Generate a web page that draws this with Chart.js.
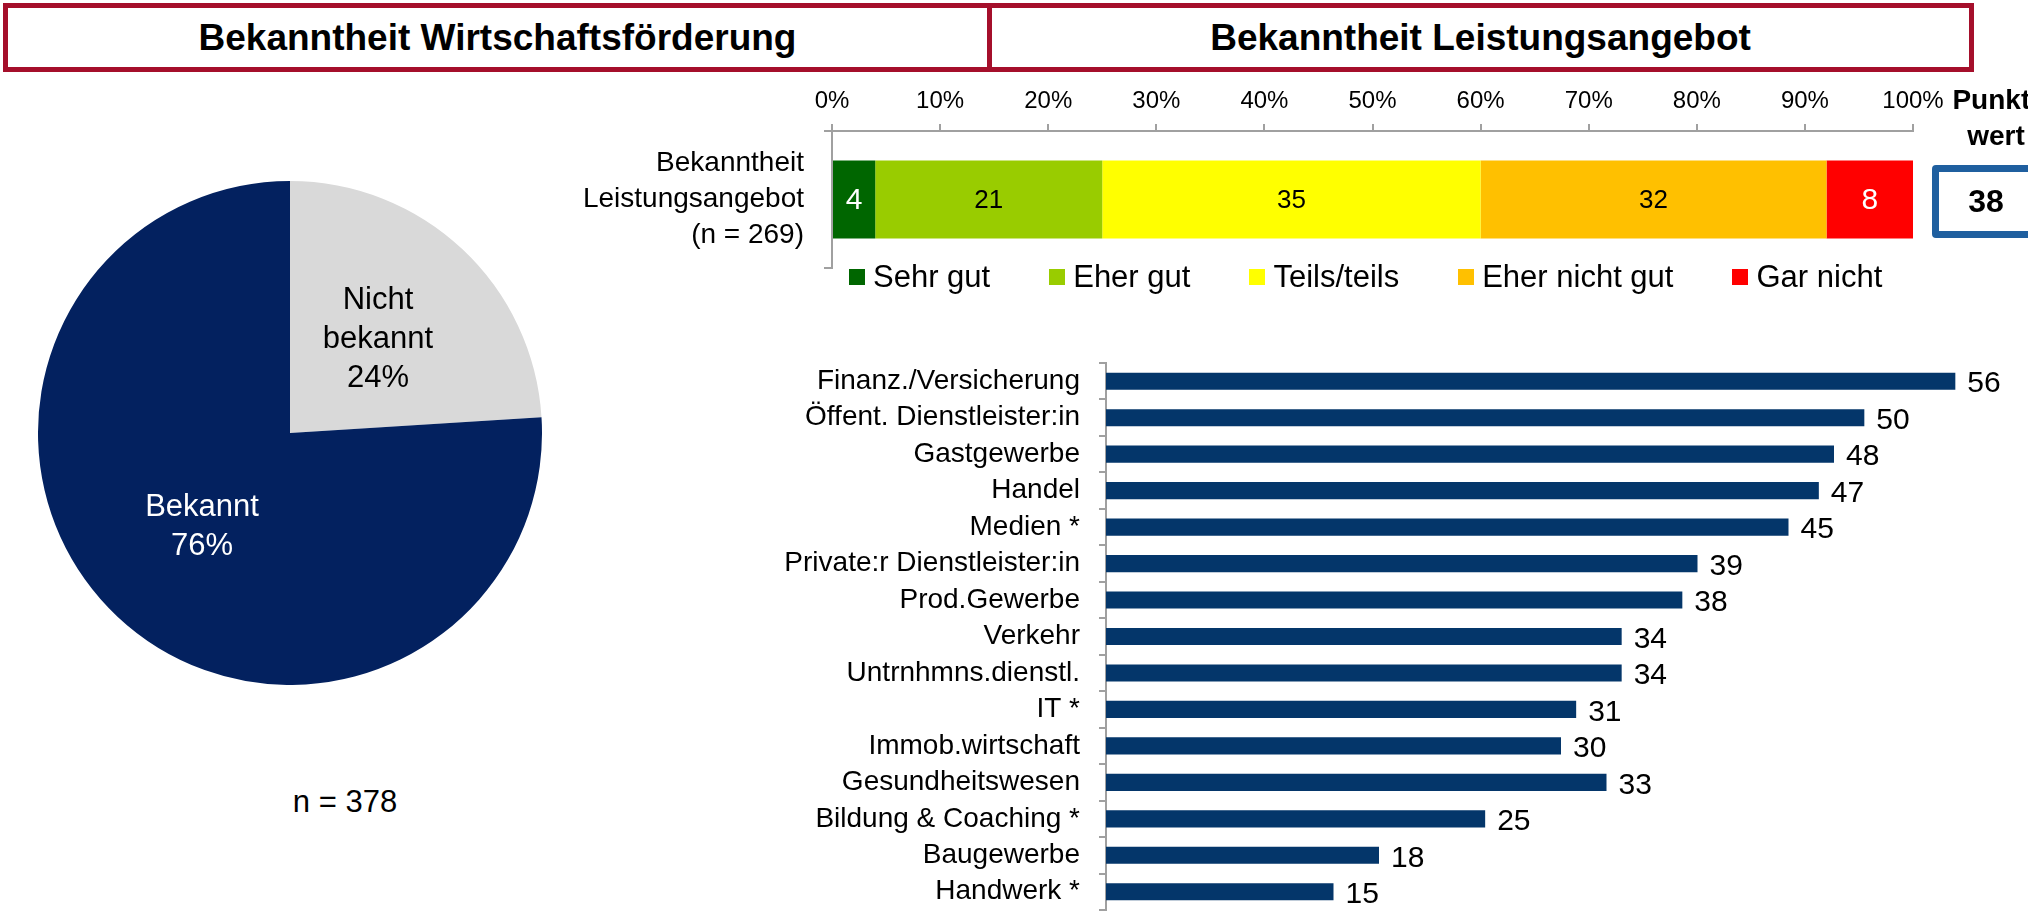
<!DOCTYPE html>
<html><head><meta charset="utf-8">
<script src="https://cdn.jsdelivr.net/npm/chart.js@4/dist/chart.umd.min.js"></script>
<style>
html,body{margin:0;padding:0;background:#fff;width:2028px;height:916px;overflow:hidden;position:relative;font-family:"Liberation Sans",Arial,sans-serif;color:#000}
.tbox{position:absolute;top:3px;height:69px;box-sizing:border-box;border:5px solid #A50F2B;display:flex;align-items:center;justify-content:center;font-weight:bold;font-size:37px}
canvas{position:absolute}
#legend{position:absolute;left:849px;top:259px;height:36px;display:flex;align-items:center;column-gap:59px;font-size:31px;white-space:nowrap}
#legend .it{display:flex;align-items:center}
#legend .sw{width:16px;height:16px;margin-right:8px}
#pw{position:absolute;left:1936px;top:82px;width:120px;text-align:center;font-weight:bold;font-size:28px;line-height:36px}
#pbox{position:absolute;left:1932px;top:165px;width:108px;height:73px;box-sizing:border-box;border:7px solid #1F5F9F;border-radius:4px;display:flex;align-items:center;justify-content:center;font-weight:bold;font-size:32px}
#nlab{position:absolute;left:245px;width:200px;top:784px;text-align:center;font-size:31px}
</style></head><body>
<div class="tbox" style="left:3px;width:989px">Bekanntheit Wirtschaftsförderung</div>
<div class="tbox" style="left:987px;width:987px">Bekanntheit Leistungsangebot</div>
<canvas id="pie" width="504" height="504" style="left:38px;top:181px"></canvas>
<div id="nlab"></div>
<canvas id="stack" width="1468" height="192" style="left:560px;top:80px"></canvas>
<div id="legend"></div>
<div id="pw"></div>
<div id="pbox"></div>
<canvas id="bars" width="1248" height="576" style="left:780px;top:340px"></canvas>
<script>
// ---- data ----
const pieLabels = ['Nicht bekannt', 'Bekannt'];
const pieValues = [24, 76];
const pieColors = ['#D9D9D9', '#03215F'];
const pieTextColors = ['#000000', '#FFFFFF'];
const pieSample = 'n = 378';

const stackCategory = [['Bekanntheit', 'Leistungsangebot', '(n = 269)']];
const stackSeries = ['Sehr gut', 'Eher gut', 'Teils/teils', 'Eher nicht gut', 'Gar nicht'];
const stackValues = [4, 21, 35, 32, 8];
const stackColors = ['#006600', '#99CC00', '#FFFF00', '#FFC000', '#FF0000'];
const stackTextColors = ['#FFFFFF', '#000000', '#000000', '#000000', '#FFFFFF'];
const pctTickStep = 10;
const punktwertTitle = ['Punkt-', 'wert'];
const punktwert = 38;

const branchLabels = ['Finanz./Versicherung', 'Öffent. Dienstleister:in', 'Gastgewerbe', 'Handel', 'Medien *',
  'Private:r Dienstleister:in', 'Prod.Gewerbe', 'Verkehr', 'Untrnhmns.dienstl.', 'IT *', 'Immob.wirtschaft',
  'Gesundheitswesen', 'Bildung & Coaching *', 'Baugewerbe', 'Handwerk *'];
const branchValues = [56, 50, 48, 47, 45, 39, 38, 34, 34, 31, 30, 33, 25, 18, 15];
const branchColor = '#04366A';

const FONT = '"Liberation Sans", Arial, sans-serif';
const AXIS = '#A0A0A0';

// ---- pie ----
document.getElementById('nlab').textContent = pieSample;
const pieLabelPlugin = {
  id: 'pieLabels',
  afterDatasetsDraw(chart) {
    const ctx = chart.ctx;
    const meta = chart.getDatasetMeta(0);
    meta.data.forEach((arc, i) => {
      const mid = (arc.startAngle + arc.endAngle) / 2;
      const r = arc.outerRadius * 0.51;
      const x = arc.x + Math.cos(mid) * r;
      const y = arc.y + Math.sin(mid) * r;
      const lines = pieLabels[i].split(' ');
      lines.push(pieValues[i] + '%');
      ctx.save();
      ctx.font = '31px ' + FONT;
      ctx.fillStyle = pieTextColors[i];
      ctx.textAlign = 'center';
      ctx.textBaseline = 'middle';
      const lh = 39;
      lines.forEach((t, k) => ctx.fillText(t, x, y + (k - (lines.length - 1) / 2) * lh));
      ctx.restore();
    });
  }
};
new Chart(document.getElementById('pie'), {
  type: 'pie',
  data: { labels: pieLabels, datasets: [{ data: pieValues, backgroundColor: pieColors, borderWidth: 0 }] },
  options: {
    responsive: false, animation: false,
    layout: { padding: 0 },
    plugins: { legend: { display: false }, tooltip: { enabled: false } }
  },
  plugins: [pieLabelPlugin]
});

// ---- stacked bar ----
const stackLabelPlugin = {
  id: 'stackLabels',
  afterDatasetsDraw(chart) {
    const ctx = chart.ctx;
    chart.data.datasets.forEach((ds, i) => {
      const el = chart.getDatasetMeta(i).data[0];
      const white = stackTextColors[i] === '#FFFFFF';
      ctx.save();
      ctx.font = (white ? '30px ' : '26px ') + FONT;
      ctx.fillStyle = stackTextColors[i];
      ctx.textAlign = 'center';
      ctx.textBaseline = 'middle';
      ctx.fillText(String(ds.data[0]), (el.x + el.base) / 2, el.y + 1);
      ctx.restore();
    });
  }
};
const stackChart = new Chart(document.getElementById('stack'), {
  type: 'bar',
  data: {
    labels: stackCategory,
    datasets: stackSeries.map((s, i) => ({
      label: s, data: [stackValues[i]], backgroundColor: stackColors[i],
      borderWidth: 0, barPercentage: 0.57, categoryPercentage: 1
    }))
  },
  options: {
    indexAxis: 'y', responsive: false, animation: false,
    layout: { padding: { top: 0, right: 115, bottom: 4, left: 0 } },
    plugins: { legend: { display: false }, tooltip: { enabled: false } },
    scales: {
      x: {
        position: 'top', stacked: true, min: 0, max: 100,
        ticks: { stepSize: pctTickStep, callback: v => v + '%', color: '#000', font: { size: 24, family: FONT }, padding: 8, maxRotation: 0 },
        grid: { drawOnChartArea: false, tickLength: 7, color: AXIS, lineWidth: 2 },
        border: { color: AXIS, width: 2 },
        afterFit(s) { s.height = 51; s.paddingLeft = 0; s.paddingRight = 0; }
      },
      y: {
        stacked: true,
        ticks: { color: '#000', font: { size: 28, family: FONT, lineHeight: 1.29 }, padding: 20 },
        grid: { drawOnChartArea: false, tickLength: 8, color: AXIS, lineWidth: 2, offset: true },
        border: { color: AXIS, width: 2 },
        afterFit(s) { s.width = 272; s.paddingTop = 0; s.paddingBottom = 0; }
      }
    }
  },
  plugins: [stackLabelPlugin]
});
// legend built from the chart's own legend items
const legendItems = Chart.defaults.plugins.legend.labels.generateLabels(stackChart);
const legEl = document.getElementById('legend');
legendItems.forEach(it => {
  const d = document.createElement('div'); d.className = 'it';
  const sw = document.createElement('span'); sw.className = 'sw'; sw.style.background = it.fillStyle;
  const tx = document.createElement('span'); tx.textContent = it.text;
  d.appendChild(sw); d.appendChild(tx); legEl.appendChild(d);
});
document.getElementById('pw').innerHTML = punktwertTitle.join('<br>');
document.getElementById('pbox').textContent = String(punktwert);

// ---- branch bars ----
const valueLabelPlugin = {
  id: 'valueLabels',
  afterDatasetsDraw(chart) {
    const ctx = chart.ctx;
    const meta = chart.getDatasetMeta(0);
    ctx.save();
    ctx.font = '30px ' + FONT;
    ctx.fillStyle = '#000';
    ctx.textAlign = 'left';
    ctx.textBaseline = 'middle';
    meta.data.forEach((el, i) => ctx.fillText(String(branchValues[i]), el.x + 12, el.y + 3));
    ctx.restore();
  }
};
new Chart(document.getElementById('bars'), {
  type: 'bar',
  data: { labels: branchLabels, datasets: [{ data: branchValues, backgroundColor: branchColor, borderWidth: 0, barPercentage: 0.47, categoryPercentage: 1 }] },
  options: {
    indexAxis: 'y', responsive: false, animation: false,
    layout: { padding: { top: 23, right: 12, bottom: 6, left: 0 } },
    plugins: { legend: { display: false }, tooltip: { enabled: false } },
    scales: {
      x: { display: false, min: 0, max: 60 },
      y: {
        ticks: { color: '#000', font: { size: 28, family: FONT }, padding: 19, autoSkip: false },
        grid: { drawOnChartArea: false, tickLength: 7, color: AXIS, lineWidth: 2, offset: true },
        border: { color: AXIS, width: 2 },
        afterFit(s) { s.width = 326; s.paddingTop = 0; s.paddingBottom = 0; }
      }
    }
  },
  plugins: [valueLabelPlugin]
});
</script>
</body></html>
